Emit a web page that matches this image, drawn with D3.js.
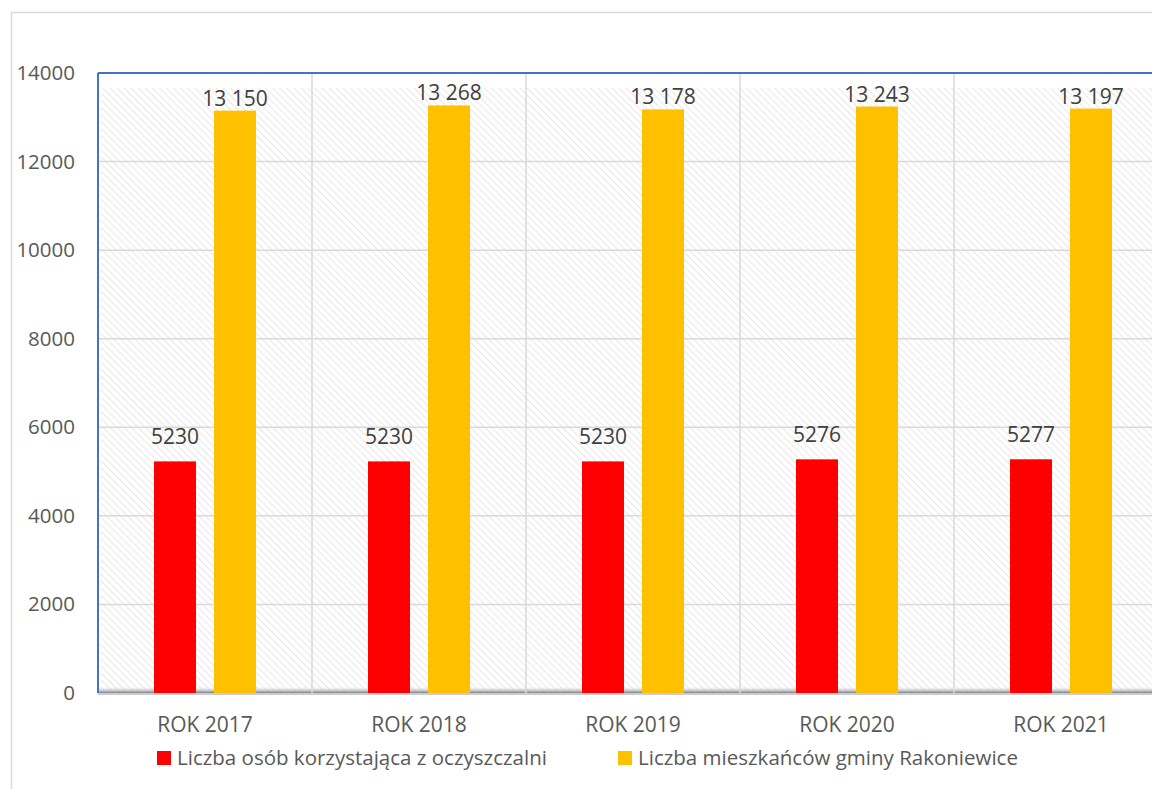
<!DOCTYPE html>
<html>
<head>
<meta charset="utf-8">
<script src="https://cdn.jsdelivr.net/npm/d3@7"></script>
<style>
  body { margin: 0; background: #fff; }
  svg { display: block; font-family: "Open Sans", sans-serif; }
  .tick text { fill: #595959; }
</style>
</head>
<body>
<svg id="chart" width="1152" height="789"></svg>
<script>
const years = ["ROK 2017", "ROK 2018", "ROK 2019", "ROK 2020", "ROK 2021"];
const users = [5230, 5230, 5230, 5276, 5277];
const residents = [13150, 13268, 13178, 13243, 13197];
const yTicks = [0, 2000, 4000, 6000, 8000, 10000, 12000, 14000];
const seriesNames = ["Liczba osób korzystająca z oczyszczalni", "Liczba mieszkańców gminy Rakoniewice"];
const seriesColors = ["#ff0000", "#ffc000"];

const svg = d3.select("#chart");
const plotLeft = 98, plotTop = 73, plotBottom = 693, plotRight = 1168;

const x = d3.scaleBand().domain(years).range([plotLeft, plotRight]);
const y = d3.scaleLinear().domain([0, 14000]).range([plotBottom, plotTop]);

// outer chart frame
svg.append("rect").attr("x", 11.5).attr("y", 12.5).attr("width", 1160).attr("height", 800)
  .attr("fill", "none").attr("stroke", "#d9d9d9").attr("stroke-width", 1.5);

// hatch pattern for back wall
const defs = svg.append("defs");
const pat = defs.append("pattern").attr("id", "hatch").attr("patternUnits", "userSpaceOnUse")
  .attr("width", 5).attr("height", 5).attr("patternTransform", "rotate(-45)");
pat.append("rect").attr("width", 5).attr("height", 5).attr("fill", "#ffffff");
pat.append("line").attr("x1", 0).attr("y1", 0).attr("x2", 0).attr("y2", 5)
  .attr("stroke", "#e8e8e8").attr("stroke-width", 2);

const floor = defs.append("linearGradient").attr("id", "floor")
  .attr("x1", "0%").attr("y1", "0%").attr("x2", "0%").attr("y2", "100%");
floor.append("stop").attr("offset", "0%").attr("stop-color", "#ffffff").attr("stop-opacity", 0);
floor.append("stop").attr("offset", "100%").attr("stop-color", "#7f7f7f");

svg.append("rect").attr("x", plotLeft + 3).attr("y", plotTop + 15).attr("width", plotRight - plotLeft)
  .attr("height", plotBottom - plotTop - 15).attr("fill", "url(#hatch)");
svg.append("rect").attr("x", plotLeft).attr("y", plotBottom - 7).attr("width", plotRight - plotLeft)
  .attr("height", 7).attr("fill", "url(#floor)");

// horizontal gridlines
svg.append("g").selectAll("line").data(yTicks.slice(1)).enter().append("line")
  .attr("x1", plotLeft).attr("x2", plotRight).attr("y1", d => y(d)).attr("y2", d => y(d))
  .attr("stroke", "#d9d9d9").attr("stroke-width", 1.5);

// vertical category gridlines
svg.append("g").selectAll("line").data(years.slice(1)).enter().append("line")
  .attr("x1", d => x(d)).attr("x2", d => x(d)).attr("y1", plotTop).attr("y2", plotBottom)
  .attr("stroke", "#d9d9d9").attr("stroke-width", 1.5);

// frame lines
svg.append("line").attr("x1", plotLeft).attr("x2", plotRight).attr("y1", plotTop).attr("y2", plotTop)
  .attr("stroke", "#4472c4").attr("stroke-width", 2);
svg.append("line").attr("x1", plotLeft).attr("x2", plotLeft).attr("y1", plotTop).attr("y2", plotBottom)
  .attr("stroke", "#4472c4").attr("stroke-width", 2);
svg.append("line").attr("x1", plotLeft).attr("x2", plotRight).attr("y1", plotBottom + 1).attr("y2", plotBottom + 1)
  .attr("stroke", "#b4bccb").attr("stroke-width", 1.5);

// bars
const barW = 42, gap = 18;
const series = [users, residents];
const spaceFmt = d3.formatLocale({ decimal: ",", thousands: " ", grouping: [3], currency: ["", ""] }).format(",d");
const labelFmt = [d3.format("d"), spaceFmt];
const labelGap = [17, 5];

series.forEach((vals, s) => {
  const off = s === 0 ? -(gap / 2 + barW) : gap / 2;
  const g = svg.append("g");
  g.selectAll("rect").data(vals).enter().append("rect")
    .attr("x", (d, i) => x(years[i]) + x.bandwidth() / 2 + off)
    .attr("y", d => y(d))
    .attr("width", barW)
    .attr("height", d => plotBottom - y(d))
    .attr("fill", seriesColors[s]);
  g.selectAll("text").data(vals).enter().append("text")
    .attr("x", (d, i) => x(years[i]) + x.bandwidth() / 2 + off + barW / 2)
    .attr("y", d => y(d) - labelGap[s])
    .attr("text-anchor", "middle")
    .attr("font-size", 21)
    .attr("fill", "#404040")
    .text(d => labelFmt[s](d));
});

// y axis labels
const yAxis = d3.axisLeft(y).tickValues(yTicks).tickSize(0).tickPadding(23).tickFormat(d3.format("d"));
svg.append("g").attr("transform", `translate(${plotLeft},0)`).call(yAxis)
  .call(g => g.select(".domain").remove())
  .selectAll("text").attr("font-size", 20.5).attr("font-family", "Open Sans, sans-serif");

// x axis labels
const xAxis = d3.axisBottom(x).tickSize(0).tickPadding(24);
svg.append("g").attr("transform", `translate(0,${plotBottom})`).call(xAxis)
  .call(g => g.select(".domain").remove())
  .selectAll("text").attr("font-size", 21).attr("font-family", "Open Sans, sans-serif");

// legend
const legendX = [157, 618];
const legend = svg.append("g").selectAll("g").data(seriesNames).enter().append("g")
  .attr("transform", (d, i) => `translate(${legendX[i]},751)`);
legend.append("rect").attr("width", 14).attr("height", 14).attr("fill", (d, i) => seriesColors[i]);
legend.append("text").attr("x", 20).attr("y", 7).attr("dy", "0.35em")
  .attr("font-size", 20.5).attr("fill", "#595959").text(d => d);
</script>
</body>
</html>
